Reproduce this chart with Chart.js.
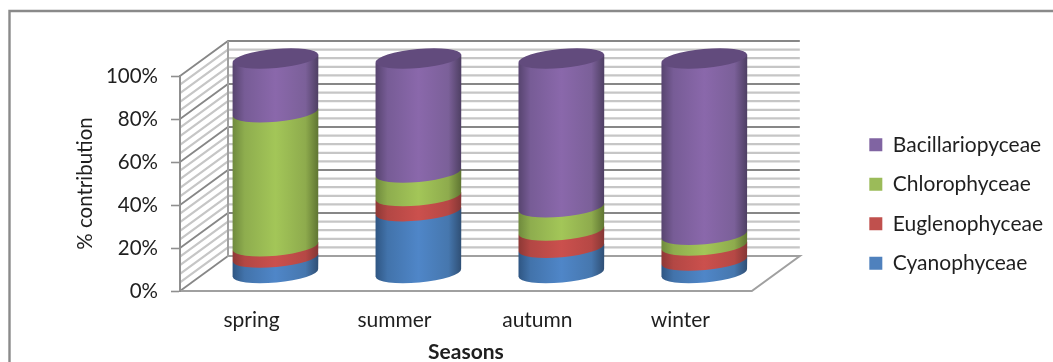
<!DOCTYPE html>
<html>
<head>
<meta charset="utf-8">
<style>
  html, body { margin: 0; background: #fff; }
  canvas { display: block; }
</style>
<script src="https://cdn.jsdelivr.net/npm/chart.js@4"></script>
</head>
<body>
<canvas id="seasons" width="1053" height="362"></canvas>
<script>
const seasons = ['spring', 'summer', 'autumn', 'winter'];
const cyanophyceae = [7.4, 29, 12, 6];
const euglenophyceae = [5.3, 7, 8, 7];
const chlorophyceae = [62.3, 11, 10.8, 5];
const bacillariophyceae = [25, 53, 69.2, 82];

const yTicks = [0, 20, 40, 60, 80, 100];
const wallStep = 4;

const FONT = 'Lato, "Open Sans", sans-serif';
const INK = '#1f1f1f';

// left edge, shoulder, highlight, shoulder, right edge of each cylinder
const shades = {
  blue:   ['#2f5683', '#4273ab', '#4f86c8', '#4677ae', '#2f4f75'],
  red:    ['#8d3835', '#b34744', '#cb504d', '#b64845', '#853735'],
  green:  ['#6f8a3d', '#8ead4e', '#a3c658', '#8eab4d', '#5f7532'],
  purple: ['#57446f', '#775c96', '#8a68ab', '#7b6099', '#4e3f63']
};
const shadeStops = [0, 0.14, 0.5, 0.85, 1];

// depth of the floor, back wall sits at full depth and bars at half
const depthX = 48;
const depthY = -35;
const tilt = Math.atan(-8 / 86);
const capRy = 9.5;

const walls = {
  id: 'walls',
  beforeDraw(chart) {
    const { ctx, chartArea: a, scales: { y } } = chart;
    ctx.save();
    // outer frame runs off the right and bottom of the canvas
    ctx.strokeStyle = '#8a8a8a';
    ctx.lineWidth = 2.4;
    ctx.beginPath();
    ctx.moveTo(9.5, 362);
    ctx.lineTo(9.5, 11);
    ctx.lineTo(1053, 11);
    ctx.stroke();

    const backL = a.left + depthX;
    const backR = a.right + depthX;
    for (let v = 0; v <= 100; v += wallStep) {
      const py = y.getPixelForValue(v);
      const major = v % 20 === 0;
      ctx.strokeStyle = major ? '#878787' : '#c6c6c6';
      ctx.lineWidth = major ? 1.8 : 2.2;
      ctx.beginPath();
      ctx.moveTo(a.left, py);
      ctx.lineTo(backL, py + depthY);
      if (v > 0) ctx.lineTo(backR, py + depthY);
      ctx.stroke();
    }

    // floor and the wall corner
    const y0 = y.getPixelForValue(0);
    const y100 = y.getPixelForValue(100);
    ctx.strokeStyle = '#a0a0a0';
    ctx.lineWidth = 2;
    ctx.beginPath();
    ctx.moveTo(backL, y100 + depthY);
    ctx.lineTo(backL, y0 + depthY);
    ctx.lineTo(backR, y0 + depthY);
    ctx.lineTo(a.right, y0);
    ctx.lineTo(a.left, y0);
    ctx.stroke();
    ctx.restore();
  }
};

function bodyGradient(ctx, cx, rx, c) {
  const g = ctx.createLinearGradient(cx - rx, 0, cx + rx, 0);
  shadeStops.forEach((s, i) => g.addColorStop(s, c[i]));
  return g;
}

// each stacked bar element becomes one slice of a cylinder, painted bottom up
const cylinders = {
  id: 'cylinders',
  beforeDatasetDraw() {
    return false;
  },
  afterDatasetsDraw(chart) {
    const { ctx } = chart;
    const last = chart.data.datasets.length - 1;
    ctx.save();
    ctx.translate(depthX / 2, depthY / 2);
    chart.data.datasets.forEach((ds, i) => {
      chart.getDatasetMeta(i).data.forEach(el => {
        const rx = el.width / 2;
        const lift = Math.sin(tilt) * rx;
        ctx.fillStyle = bodyGradient(ctx, el.x, rx, ds.shades);
        ctx.beginPath();
        ctx.moveTo(el.x - rx, el.y - lift);
        ctx.lineTo(el.x - rx, el.base - lift);
        ctx.ellipse(el.x, el.base, rx, capRy, tilt, Math.PI, 0, true);
        ctx.lineTo(el.x + rx, el.y + lift);
        ctx.closePath();
        ctx.fill();
        if (i === last) {
          ctx.fillStyle = '#624b7d';
          ctx.beginPath();
          ctx.ellipse(el.x, el.y, rx, capRy, tilt, 0, Math.PI * 2);
          ctx.fill();
        }
      });
    });
    ctx.restore();
  }
};

// legend keeps its own box in the layout but sits further right and higher
const legendShift = {
  id: 'legendShift',
  afterLayout(chart) {
    const lg = chart.legend;
    lg.left += 99;
    lg.right += 99;
    lg.top -= 15;
    lg.bottom -= 15;
  }
};

new Chart(document.getElementById('seasons'), {
  type: 'bar',
  data: {
    labels: seasons,
    datasets: [
      { label: 'Cyanophyceae', data: cyanophyceae, backgroundColor: '#4f81bd', shades: shades.blue },
      { label: 'Euglenophyceae', data: euglenophyceae, backgroundColor: '#c0504d', shades: shades.red },
      { label: 'Chlorophyceae', data: chlorophyceae, backgroundColor: '#9bbb59', shades: shades.green },
      { label: 'Bacillariopyceae', data: bacillariophyceae, backgroundColor: '#8064a2', shades: shades.purple }
    ]
  },
  plugins: [walls, cylinders, legendShift],
  options: {
    responsive: false,
    animation: false,
    layout: { padding: { left: 10, top: 76, right: 99, bottom: 0 } },
    datasets: { bar: { categoryPercentage: 0.6, barPercentage: 1 } },
    plugins: {
      tooltip: { enabled: false },
      legend: {
        position: 'right',
        reverse: true,
        labels: {
          boxWidth: 13,
          boxHeight: 13,
          padding: 18.5,
          color: INK,
          font: { family: FONT, size: 21 }
        }
      }
    },
    scales: {
      x: {
        stacked: true,
        border: { display: false },
        grid: { display: false },
        ticks: { color: INK, padding: 9, maxRotation: 0, font: { family: FONT, size: 21 } },
        title: { display: true, text: 'Seasons', color: INK, padding: { top: 5, bottom: -3 }, font: { family: FONT, size: 21, weight: 'bold' } },
        afterFit(scale) { scale.height = 71; }
      },
      y: {
        stacked: true,
        min: 0,
        max: 100,
        border: { color: '#8f8f8f', width: 2 },
        grid: { drawOnChartArea: false, tickLength: 9, tickColor: '#8f8f8f', tickWidth: 1.6 },
        afterBuildTicks(scale) { scale.ticks = yTicks.map(value => ({ value })); },
        ticks: { color: INK, padding: 13, callback: v => v + '%', font: { family: FONT, size: 20.5 } },
        title: { display: true, text: '% contribution', color: INK, padding: { top: 63, bottom: 0 }, font: { family: FONT, size: 20.5 } },
        afterFit(scale) { scale.width = 170; }
      }
    }
  }
});
</script>
</body>
</html>
